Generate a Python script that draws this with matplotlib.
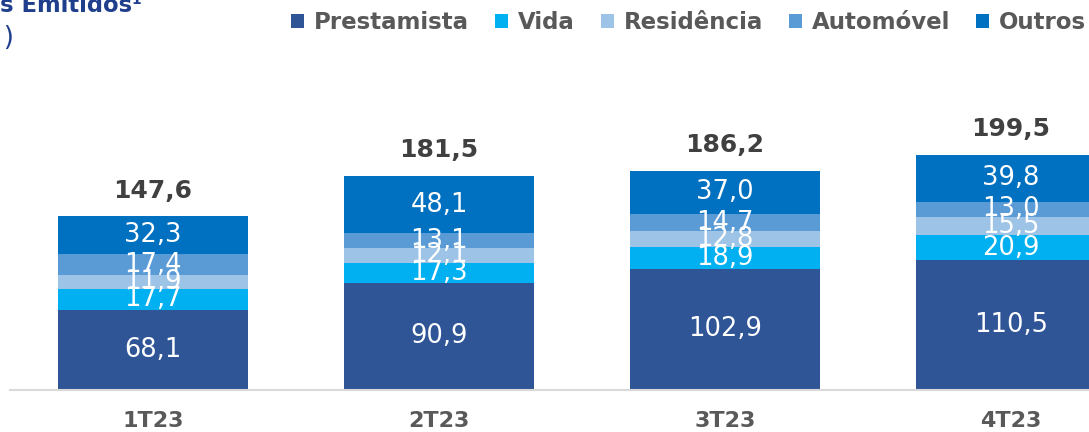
import matplotlib
matplotlib.use("Agg")
from matplotlib import pyplot as plt
import numpy as np

quarters = ["1T23", "2T23", "3T23", "4T23"]
series_names = ["Prestamista", "Vida", "Residência", "Automóvel", "Outros"]
prestamista = [68.1, 90.9, 102.9, 110.5]
vida = [17.7, 17.3, 18.9, 20.9]
residencia = [11.9, 12.1, 12.8, 15.5]
automovel = [17.4, 13.1, 14.7, 13.0]
outros = [32.3, 48.1, 37.0, 39.8]
totals = [147.6, 181.5, 186.2, 199.5]

colors = ["#2F5597", "#00B0F0", "#9DC3E6", "#5B9BD5", "#0070C0"]
navy = "#1F3F8C"

plt.rcParams["font.family"] = ["DejaVu Sans"]


def fmt(v):
    return f"{v:.1f}".replace(".", ",")


def main():
    fig = plt.figure(figsize=(10.89, 4.32), dpi=100)
    ax = fig.add_axes([10 / 1089, 42 / 432, 1079 / 1089, 390 / 432])

    x = np.arange(len(quarters))
    width = 0.664
    bottom = np.zeros(len(quarters))
    handles = []
    for name, vals, col in zip(series_names,
                               [prestamista, vida, residencia, automovel, outros],
                               colors):
        bars = ax.bar(x, vals, width, bottom=bottom, color=col, label=name)
        handles.append(bars)
        for xi, b, v in zip(x, bottom, vals):
            ax.text(xi, b + v / 2, fmt(v), ha="center", va="center",
                    color="white", fontsize=18.5)
        bottom = bottom + np.array(vals)

    # totals above each bar
    for xi, top, t in zip(x, bottom, totals):
        ax.annotate(fmt(t), (xi, top), xytext=(0, 13.5), textcoords="offset points",
                    ha="center", va="baseline", fontsize=18, fontweight="bold",
                    color="#404040")

    ax.set_xlim(-0.5, -0.5 + 1079 / 286)
    ax.set_ylim(0, 390 / 1.178)
    ax.set_xticks(x)
    ax.set_xticklabels(quarters, fontsize=16, fontweight="bold", color="#595959")
    ax.tick_params(axis="x", length=0, pad=15)
    ax.set_yticks([])
    for s in ["top", "left", "right"]:
        ax.spines[s].set_visible(False)
    ax.spines["bottom"].set_color("#D9D9D9")
    ax.spines["bottom"].set_linewidth(1.5)
    ax.patch.set_alpha(0)

    leg = fig.legend(handles=handles, labels=series_names, ncol=5,
                     loc="upper right", bbox_to_anchor=(1 - 3 / 1089, 1 - 11 / 432),
                     frameon=False, handlelength=0.57, handleheight=0.57,
                     handletextpad=0.43, columnspacing=1.13, borderaxespad=0,
                     borderpad=0, prop={"size": 16.5, "weight": "bold"})
    for t in leg.get_texts():
        t.set_color("#595959")

    # title (cropped at the top-left in the reference)
    fig.text(142 / 1089, 1 - 12 / 432, "Prêmios Emitidos¹", ha="right",
             va="baseline", fontsize=16.3, fontweight="bold", color=navy)
    fig.text(14 / 1089, 1 - 45 / 432, "(R$ milhões )", ha="right",
             va="baseline", fontsize=19, color=navy)

    fig.savefig("out.png", dpi=100)


if __name__ == "__main__":
    main()
